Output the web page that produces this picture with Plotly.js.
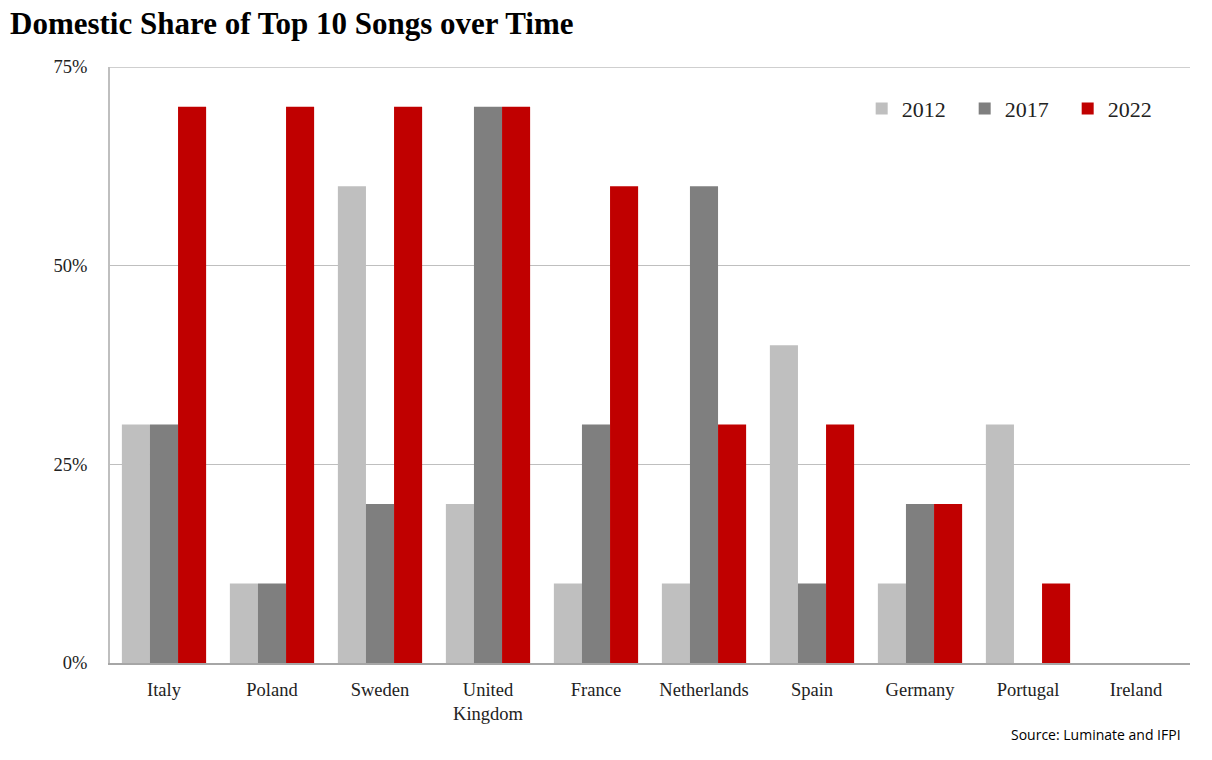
<!DOCTYPE html>
<html>
<head>
<meta charset="utf-8">
<script src="https://cdn.plot.ly/plotly-3.0.1.min.js"></script>
<style>html,body{margin:0;padding:0;background:#fff;}#chart{width:1212px;height:760px;}</style>
</head>
<body>
<div id="chart"></div>
<script>
const categories = ["Italy","Poland","Sweden","United<br>Kingdom","France","Netherlands","Spain","Germany","Portugal","Ireland"];
const years = ["2012","2017","2022"];
const share2012 = [30,10,60,20,10,10,40,10,30,0];
const share2017 = [30,10,20,70,30,60,10,20,0,0];
const share2022 = [70,70,70,70,60,30,30,20,10,0];
const colors = ["#bfbfbf","#7f7f7f","#c00000"];
const yTicks = [0, 25, 50, 75];
const yTickText = ["0%", "25%", "50%", "75%"];

const series = [share2012, share2017, share2022];
const traces = series.map((vals, i) => ({
  type: "bar",
  name: years[i],
  x: categories,
  y: vals,
  marker: {color: colors[i]},
  hovertemplate: "%{x}: %{y}%<extra>" + years[i] + "</extra>"
}));

const serif = "Palatino Linotype, Book Antiqua, Palatino, Liberation Serif, DejaVu Serif, serif";

const layout = {
  width: 1212, height: 760,
  paper_bgcolor: "#fff", plot_bgcolor: "#fff",
  margin: {l: 110, r: 22, t: 67, b: 97, autoexpand: false},
  barmode: "group",
  bargap: 0.22,
  bargroupgap: 0,
  title: {
    text: "<b>Domestic Share of Top 10 Songs over Time</b>",
    xref: "container", x: 10 / 1212, xanchor: "left",
    yref: "container", y: 1 - 23 / 760, yanchor: "middle",
    font: {family: serif, size: 31, color: "#000"}
  },
  font: {family: serif, size: 18, color: "#222"},
  xaxis: {
    type: "category",
    showgrid: false,
    showline: true, linecolor: "#a6a6a6", linewidth: 2,
    ticks: "", ticklabelstandoff: 9,
    tickfont: {family: serif, size: 18.5, color: "#222"},
    fixedrange: true
  },
  yaxis: {
    range: [0, 75],
    tickvals: yTicks,
    ticktext: yTickText,
    showgrid: true, gridcolor: "#bfbfbf", gridwidth: 1,
    zeroline: false,
    showline: true, linecolor: "#bfbfbf", linewidth: 2,
    ticks: "", ticklabelstandoff: 17,
    tickfont: {family: serif, size: 18.5, color: "#222"},
    fixedrange: true
  },
  shapes: [{
    type: "line", xref: "paper", yref: "y",
    x0: 0, x1: 1, y0: 75, y1: 75,
    line: {color: "#bfbfbf", width: 1.5},
    layer: "below"
  }],
  showlegend: true,
  legend: {
    orientation: "h",
    x: 0.696, xanchor: "left",
    y: 0.93, yanchor: "middle",
    font: {family: serif, size: 22, color: "#222"},
    bgcolor: "rgba(0,0,0,0)",
    entrywidth: 58, entrywidthmode: "pixels",
    itemwidth: 30,
    tracegroupgap: 0
  },
  annotations: [{
    text: "Source: Luminate and IFPI",
    xref: "paper", yref: "paper",
    x: 0.9935, xanchor: "right",
    y: -0.12, yanchor: "middle",
    showarrow: false,
    font: {family: "Open Sans, Noto Sans, sans-serif", size: 14, color: "#000"}
  }]
};

Plotly.newPlot("chart", traces, layout, {displayModeBar: false, staticPlot: true});
</script>
</body>
</html>
